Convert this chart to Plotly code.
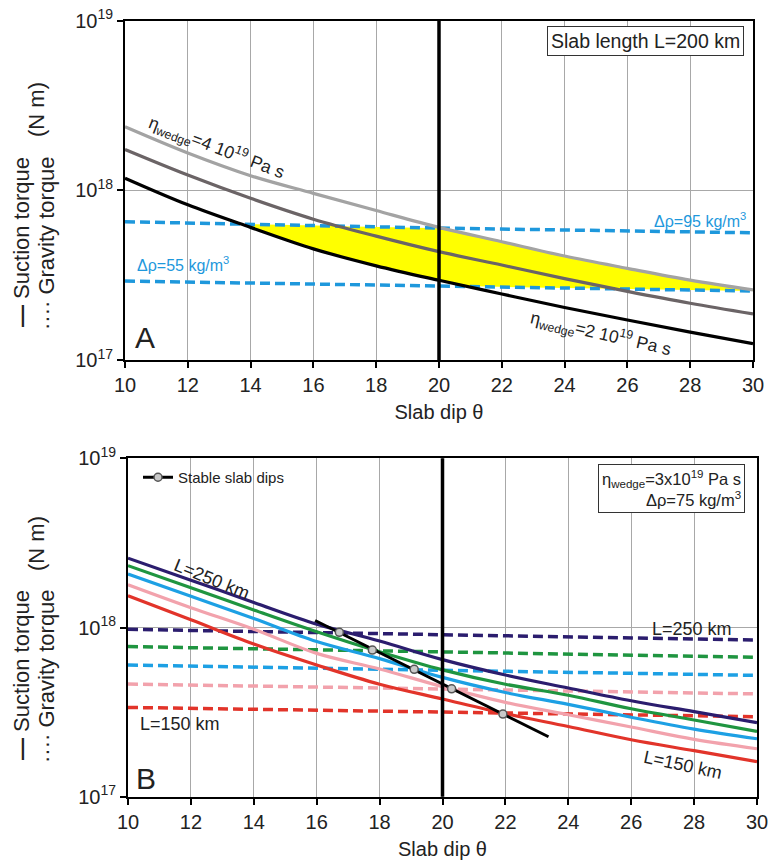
import numpy as np
import plotly.graph_objects as go

# ---------------- data ----------------
dip = [10, 12, 14, 16, 18, 20, 22, 24, 26, 28, 30]

# Panel A : slab length 200 km, suction torque for three wedge viscosities
suction_eta2 = [1.18e18, 8.22e17, 6.05e17, 4.52e17, 3.59e17, 2.95e17, 2.45e17, 2.04e17, 1.72e17, 1.46e17, 1.25e17]
suction_eta3 = [1.74e18, 1.23e18, 8.97e17, 6.76e17, 5.37e17, 4.35e17, 3.63e17, 3.02e17, 2.54e17, 2.16e17, 1.87e17]
suction_eta4 = [2.37e18, 1.66e18, 1.22e18, 9.60e17, 7.60e17, 6.05e17, 4.98e17, 4.10e17, 3.47e17, 2.96e17, 2.59e17]

grav_dip = [10, 20, 30]
gravity_drho95 = [6.53e17, 5.99e17, 5.62e17]
gravity_drho55 = [2.92e17, 2.73e17, 2.55e17]

# Panel B : eta_wedge = 3e19, drho = 75, several slab lengths
lengths = ["L=250 km", "L=225 km", "L=200 km", "L=175 km", "L=150 km"]
suction_L250 = [2.57e18, 1.905e18, 1.406e18, 1.047e18, 8.32e17, 6.46e17, 5.24e17, 4.39e17, 3.69e17, 3.18e17, 2.74e17]
suction_L225 = [2.32e18, 1.72e18, 1.27e18, 9.44e17, 7.19e17, 5.62e17, 4.62e17, 3.98e17, 3.31e17, 2.84e17, 2.43e17]
suction_L200 = [2.07e18, 1.53e18, 1.13e18, 8.26e17, 6.55e17, 5.07e17, 4.13e17, 3.51e17, 2.95e17, 2.51e17, 2.20e17]
suction_L175 = [1.79e18, 1.31e18, 9.77e17, 7.03e17, 5.69e17, 4.47e17, 3.61e17, 3.05e17, 2.58e17, 2.18e17, 1.92e17]
suction_L150 = [1.54e18, 1.11e18, 7.98e17, 6.00e17, 4.62e17, 3.78e17, 3.10e17, 2.60e17, 2.17e17, 1.87e17, 1.61e17]

gravity_L250 = [9.75e17, 9.08e17, 8.43e17]
gravity_L225 = [7.71e17, 7.18e17, 6.67e17]
gravity_L200 = [6.00e17, 5.60e17, 5.21e17]
gravity_L175 = [4.63e17, 4.34e17, 4.05e17]
gravity_L150 = [3.37e17, 3.16e17, 2.97e17]

stable_dip = [16.72, 17.77, 19.10, 20.29, 21.92]
stable_torque = [9.37e17, 7.36e17, 5.66e17, 4.34e17, 3.08e17]
stable_line_dip = [15.95, 23.37]
stable_line_torque = [1.10e18, 2.26e17]

ref_dip = 20
x_ticks = list(range(10, 31, 2))
y_ticks = [1e17, 1e18, 1e19]
y_ticktext = ["10<sup>17</sup>", "10<sup>18</sup>", "10<sup>19</sup>"]

# ---------------- styles ----------------
FONT = "Liberation Sans, Arial, sans-serif"
W, H = 769, 861
c_blue_a = "#1e98dc"
c_lgrey = "#a3a3a3"
c_dgrey = "#6b6466"
colors_b = ["#2b1d6e", "#1f9540", "#1da0e4", "#f2a2ac", "#e2342a"]

fig = go.Figure()

# ---------------- Panel A ----------------
xs = np.linspace(10, 30, 801)
l_eta2 = np.interp(xs, dip, np.log10(suction_eta2))
l_eta4 = np.interp(xs, dip, np.log10(suction_eta4))
l_d95 = np.interp(xs, grav_dip, np.log10(gravity_drho95))
l_d55 = np.interp(xs, grav_dip, np.log10(gravity_drho55))
upper = np.minimum(l_eta4, l_d95)
lower = np.maximum(l_eta2, l_d55)
m = upper > lower
fx = np.concatenate([xs[m], xs[m][::-1]])
fy = 10 ** np.concatenate([upper[m], lower[m][::-1]])
fig.add_trace(go.Scatter(x=fx, y=fy, fill="toself", fillcolor="#ffff00", mode="lines",
                         line=dict(width=0), hoverinfo="skip", showlegend=False,
                         xaxis="x", yaxis="y"))

for g in (gravity_drho95, gravity_drho55):
    fig.add_trace(go.Scatter(x=grav_dip, y=g, mode="lines", showlegend=False,
                             line=dict(color=c_blue_a, width=3.5, dash="10px,5px"),
                             xaxis="x", yaxis="y"))
for s, c in ((suction_eta4, c_lgrey), (suction_eta3, c_dgrey), (suction_eta2, "black")):
    fig.add_trace(go.Scatter(x=dip, y=s, mode="lines", showlegend=False,
                             line=dict(color=c, width=3.2, shape="spline"),
                             xaxis="x", yaxis="y"))

# ---------------- Panel B ----------------
gravs = [gravity_L250, gravity_L225, gravity_L200, gravity_L175, gravity_L150]
sucts = [suction_L250, suction_L225, suction_L200, suction_L175, suction_L150]
for g, c, n in zip(gravs, colors_b, lengths):
    fig.add_trace(go.Scatter(x=grav_dip, y=g, mode="lines", showlegend=False, name=n,
                             line=dict(color=c, width=3.5, dash="10px,5px"),
                             xaxis="x2", yaxis="y2"))
for s, c, n in zip(sucts, colors_b, lengths):
    fig.add_trace(go.Scatter(x=dip, y=s, mode="lines", showlegend=False, name=n,
                             line=dict(color=c, width=3.2, shape="spline"),
                             xaxis="x2", yaxis="y2"))

fig.add_trace(go.Scatter(x=stable_line_dip, y=stable_line_torque, mode="lines",
                         line=dict(color="black", width=3), showlegend=False,
                         xaxis="x2", yaxis="y2"))
marker_style = dict(symbol="circle", size=8, color="#c9c9c9", line=dict(color="#555555", width=1.5))
fig.add_trace(go.Scatter(x=stable_dip, y=stable_torque, mode="markers", marker=marker_style,
                         showlegend=False, xaxis="x2", yaxis="y2"))
# legend-only entry
fig.add_trace(go.Scatter(x=[None], y=[None], mode="lines+markers", name="Stable slab dips",
                         line=dict(color="black", width=3), marker=marker_style,
                         showlegend=True, xaxis="x2", yaxis="y2"))

# ---------------- axes ----------------
def xaxis_style(domain, anchor):
    return dict(domain=domain, anchor=anchor, range=[10, 30], tickvals=x_ticks,
                showline=True, mirror=True, linecolor="black", linewidth=2,
                ticks="outside", ticklen=6, tickwidth=2, tickcolor="black",
                showgrid=True, gridcolor="#a8a8a8", gridwidth=1, zeroline=False,
                tickfont=dict(family=FONT, size=20, color="#222"),
                title=dict(text="Slab dip θ", font=dict(family=FONT, size=20, color="#222"), standoff=10),
                automargin=False)

def yaxis_style(domain, anchor):
    return dict(domain=domain, anchor=anchor, type="log", range=[17, 19],
                tickvals=y_ticks, ticktext=y_ticktext,
                showline=True, mirror=True, linecolor="black", linewidth=2,
                ticks="outside", ticklen=6, tickwidth=2, tickcolor="black",
                showgrid=True, gridcolor="#a8a8a8", gridwidth=1, zeroline=False,
                tickfont=dict(family=FONT, size=20, color="#222"), automargin=False)

fig.update_layout(
    width=W, height=H, margin=dict(l=0, r=0, t=0, b=0),
    paper_bgcolor="white", plot_bgcolor="white",
    xaxis=xaxis_style([125 / W, 753 / W], "y"),
    yaxis=yaxis_style([1 - 360 / H, 1 - 20.7 / H], "x"),
    xaxis2=xaxis_style([128 / W, 757 / W], "y2"),
    yaxis2=yaxis_style([1 - 796.7 / H, 1 - 458.3 / H], "x2"),
    showlegend=True,
    legend=dict(x=138 / W, y=1 - 461 / H, xanchor="left", yanchor="top",
                bgcolor="rgba(0,0,0,0)", font=dict(family=FONT, size=15, color="#222"),
                itemwidth=30, tracegroupgap=0),
)

# vertical reference lines at dip 20
for xr, yr in (("x", "y domain"), ("x2", "y2 domain")):
    fig.add_shape(type="line", xref=xr, yref=yr, x0=ref_dip, x1=ref_dip, y0=0, y1=1,
                  line=dict(color="black", width=3.5), layer="above")

# ---------------- annotations ----------------
ann = []
def add(text, x, y, xref, yref, size, color="#222", angle=0, **kw):
    d = dict(text=text, x=x, y=y, xref=xref, yref=yref, showarrow=False,
             xanchor="center", yanchor="middle",
             font=dict(family=FONT, size=size, color=color), textangle=angle)
    d.update(kw)
    ann.append(d)

# Panel A
add("η<sub>wedge</sub>=4 10<sup>19</sup> Pa s", 12.93, 18.255, "x", "y", 17.5, angle=21)
add("η<sub>wedge</sub>=2 10<sup>19</sup> Pa s", 25.15, 17.157, "x", "y", 17.5, angle=13)
add("Δρ=95 kg/m<sup>3</sup>", 28.31, 17.825, "x", "y", 16, color=c_blue_a)
add("Δρ=55 kg/m<sup>3</sup>", 11.86, 17.566, "x", "y", 16, color=c_blue_a)
add("A", 10.64, 17.133, "x", "y", 30)
add("Slab length L=200 km", 645 / W, 1 - 41 / H, "paper", "paper", 19.5,
    bordercolor="#333", borderwidth=1, borderpad=3, bgcolor="white")
# Panel B
add("L=250 km", 12.66, 18.285, "x2", "y2", 18, angle=22)
add("L=150 km", 11.65, 17.428, "x2", "y2", 18)
add("L=250 km", 27.94, 17.99, "x2", "y2", 18)
add("L=150 km", 27.66, 17.187, "x2", "y2", 18, angle=12)
add("B", 10.57, 17.105, "x2", "y2", 30)
add("η<sub>wedge</sub>=3x10<sup>19</sup> Pa s<br>Δρ=75 kg/m<sup>3</sup>", 671.5 / W, 1 - 488.5 / H,
    "paper", "paper", 16.5, align="right", bordercolor="#333", borderwidth=1, borderpad=3,
    bgcolor="white")

# y-axis titles (two lines + unit)
for yc, yu in ((242, 110), (675, 544)):
    add("<b>—</b> Suction torque", 21 / W, 1 - yc / H, "paper", "paper", 22, angle=-90)
    add("···· Gravity torque", 46 / W, 1 - (yc + 1) / H, "paper", "paper", 22, angle=-90)
    add("(N m)", 36 / W, 1 - yu / H, "paper", "paper", 22, angle=-90)

fig.update_layout(annotations=ann)
fig.write_html("out.html")
